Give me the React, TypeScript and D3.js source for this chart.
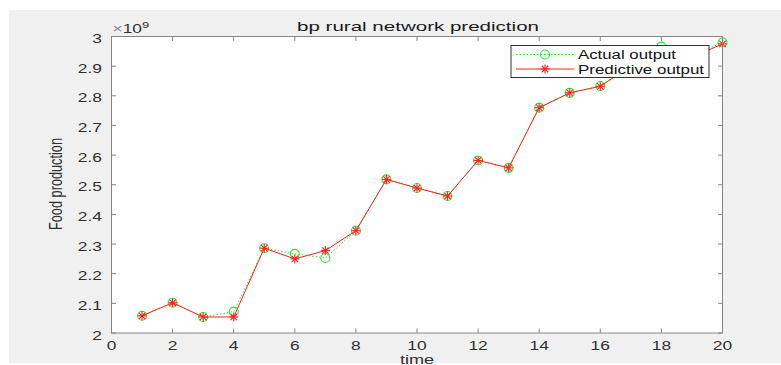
import React from 'react';
import * as d3 from 'd3';

// time steps 1..20
const timeSteps = [1, 2, 3, 4, 5, 6, 7, 8, 9, 10, 11, 12, 13, 14, 15, 16, 17, 18, 19, 20];
// values in units of 1e9
const actualOutput = [2.058, 2.102, 2.054, 2.072, 2.286, 2.267, 2.253, 2.345, 2.518, 2.489, 2.462, 2.582, 2.557, 2.760, 2.810, 2.833, 2.905, 2.966, 2.935, 2.980];
const predictiveOutput = [2.058, 2.102, 2.054, 2.054, 2.286, 2.250, 2.278, 2.345, 2.518, 2.489, 2.462, 2.582, 2.557, 2.760, 2.810, 2.832, 2.900, 2.950, 2.930, 2.975];
const yTicks = [2, 2.1, 2.2, 2.3, 2.4, 2.5, 2.6, 2.7, 2.8, 2.9, 3];
const xTicks = [0, 2, 4, 6, 8, 10, 12, 14, 16, 18, 20];
const seriesNames = ['Actual output', 'Predictive output'];
const legendTextWidths = [98, 126];

const W = 781;
const H = 365;
const plot = { left: 111.5, right: 722.5, top: 36.5, bottom: 333 };
const FONT = '"Liberation Sans", Arial, sans-serif';
const AXIS = '#858585';
const TXT = '#303030';
const GREEN = '#22ee22';
const RED = '#ff2020';
const SX = 1.45; // the figure is stretched sideways

function Star({ x, y, s }: { x: number; y: number; s: number }) {
  const d = s * 0.72;
  return (
    <g stroke={RED} strokeWidth={1.1}>
      <line x1={x - s} y1={y} x2={x + s} y2={y} />
      <line x1={x} y1={y - s} x2={x} y2={y + s} />
      <line x1={x - d} y1={y - d} x2={x + d} y2={y + d} />
      <line x1={x - d} y1={y + d} x2={x + d} y2={y - d} />
    </g>
  );
}

export default function App() {
  const x = d3.scaleLinear().domain([0, 20]).range([plot.left, plot.right]);
  const y = d3.scaleLinear().domain([2, 3]).range([plot.bottom, plot.top]);

  const line = d3
    .line<number>()
    .x((d, i) => x(timeSteps[i]))
    .y((d) => y(d));

  const tickLen = 4.5;
  const legend = { x: 511, y: 45.5, w: 198, h: 32 };
  const rowY = [legend.y + 9, legend.y + 23.5];

  return (
    <svg width={W} height={H} style={{ position: 'absolute', left: 0, top: 0 }} fontFamily={FONT}>
      <rect x={0} y={0} width={W} height={H} fill="#ffffff" />
      <rect x={9} y={10} width={W - 9} height={353} fill="#f0f0f0" />
      <rect x={plot.left} y={plot.top} width={plot.right - plot.left} height={plot.bottom - plot.top} fill="#ffffff" />

      {/* series */}
      <path d={line(actualOutput) || ''} fill="none" stroke={GREEN} strokeWidth={1} strokeDasharray="1.5,2" />
      {actualOutput.map((v, i) => (
        <circle key={'a' + i} cx={x(timeSteps[i])} cy={y(v)} r={4.5} fill="none" stroke={GREEN} strokeWidth={1.1} />
      ))}
      <path d={line(predictiveOutput) || ''} fill="none" stroke={RED} strokeWidth={1} />
      {predictiveOutput.map((v, i) => (
        <Star key={'p' + i} x={x(timeSteps[i])} y={y(v)} s={4.5} />
      ))}

      {/* axes box */}
      <rect x={plot.left} y={plot.top} width={plot.right - plot.left} height={plot.bottom - plot.top} fill="none" stroke={AXIS} strokeWidth={1} />
      {xTicks.map((t) => (
        <g key={'x' + t}>
          <line x1={x(t)} x2={x(t)} y1={plot.bottom} y2={plot.bottom - tickLen} stroke={AXIS} />
          <line x1={x(t)} x2={x(t)} y1={plot.top} y2={plot.top + tickLen} stroke={AXIS} />
          <text transform={`translate(${x(t)}, ${plot.bottom + 17}) scale(${SX}, 1)`} fontSize={12} fill={TXT} textAnchor="middle">{t}</text>
        </g>
      ))}
      {yTicks.map((t) => (
        <g key={'y' + t}>
          <line x1={plot.left} x2={plot.left + tickLen} y1={y(t)} y2={y(t)} stroke={AXIS} />
          <line x1={plot.right} x2={plot.right - tickLen} y1={y(t)} y2={y(t)} stroke={AXIS} />
          <text transform={`translate(${plot.left - 9.5}, ${y(t) + 6.5}) scale(${SX}, 1)`} fontSize={12} fill={TXT} textAnchor="end">{d3.format('~g')(t)}</text>
        </g>
      ))}

      {/* exponent */}
      <text transform={`translate(${plot.left + 1}, ${plot.top - 4}) scale(${SX}, 1)`} fontSize={12} fill={TXT}>
        <tspan fill="#888">×</tspan>10<tspan dy={-5} fontSize={9}>9</tspan>
      </text>

      {/* labels */}
      <text x={418} y={31} fontSize={13} fill="#1a1a1a" textAnchor="middle" textLength={242} lengthAdjust="spacingAndGlyphs">bp rural network prediction</text>
      <text transform={`translate(${(plot.left + plot.right) / 2}, 364) scale(${SX}, 1)`} fontSize={12.5} fill={TXT} textAnchor="middle">time</text>
      <text transform={`translate(62, 184) scale(${SX}, 1) rotate(-90)`} fontSize={12.5} fill={TXT} textAnchor="middle" textLength={92} lengthAdjust="spacingAndGlyphs">Food production</text>

      {/* legend */}
      <rect x={legend.x} y={legend.y} width={legend.w} height={legend.h} fill="#ffffff" stroke="#333" strokeWidth={1} />
      <line x1={legend.x + 5} x2={legend.x + 63} y1={rowY[0]} y2={rowY[0]} stroke={GREEN} strokeDasharray="1.5,2" />
      <circle cx={legend.x + 34} cy={rowY[0]} r={4.5} fill="none" stroke={GREEN} strokeWidth={1.1} />
      <line x1={legend.x + 5} x2={legend.x + 63} y1={rowY[1]} y2={rowY[1]} stroke={RED} />
      <Star x={legend.x + 34} y={rowY[1]} s={4.5} />
      {seriesNames.map((n, i) => (
        <text key={n} x={legend.x + 67} y={rowY[i] + 4.5} fontSize={12.5} fill="#111" textLength={legendTextWidths[i]} lengthAdjust="spacingAndGlyphs">{n}</text>
      ))}
    </svg>
  );
}
